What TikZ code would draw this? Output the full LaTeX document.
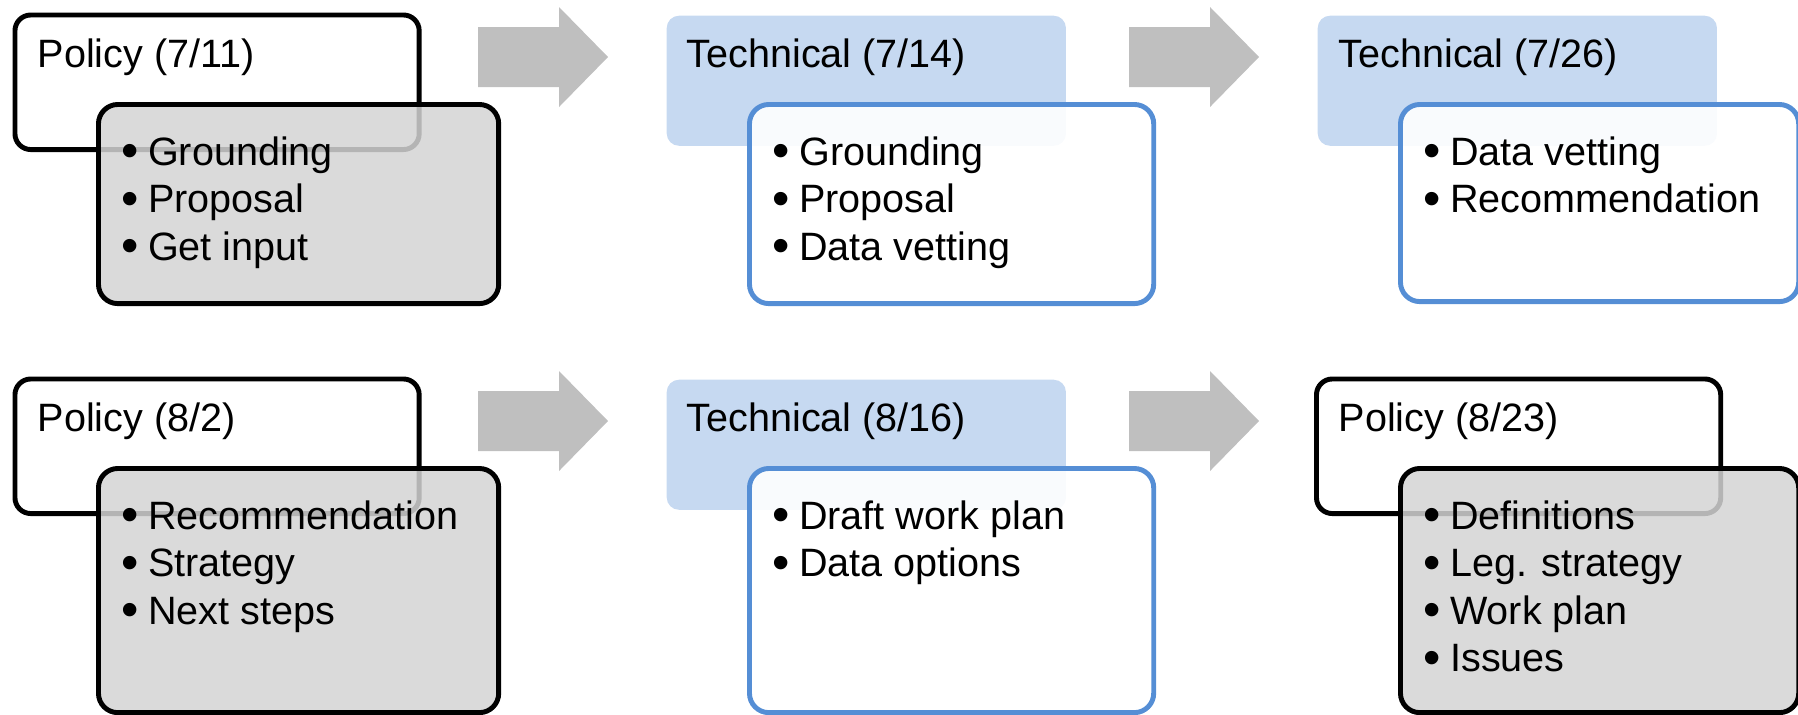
\documentclass[tikz,border=0pt]{standalone}
\usepackage{fontspec}
\setmainfont{Liberation Sans}
\usepackage{xcolor}
\usepackage{graphicx}
\usepackage{tikz}

\definecolor{headblue}{RGB}{198,217,241}
\definecolor{lineblue}{RGB}{85,142,213}
\definecolor{notegray}{RGB}{212,212,212}
\definecolor{arrowgray}{RGB}{191,191,191}

% one bullet line per item, baselines 47.5 apart
\newcommand{\bulletrows}[4]{%
  \foreach \txt [count=\i] in {#4}
    \node[rowtext] (#1-\i) at (#2, {#3+47.5*(\i-1)})
      {\makebox[0.67em][l]{\smash{\raisebox{-0.07em}{\scalebox{1.25}{\textbullet}}}}\txt};
}

\begin{document}
\begin{tikzpicture}[x=0.01cm, y=-0.01cm,
    font=\fontsize{11.25pt}{13.5pt}\selectfont,
    policyhead/.style={draw=black, line width=1.4pt, fill=white, rounded corners=4.5pt,
      anchor=north west, inner sep=0pt, minimum width=4.04cm, minimum height=1.345cm},
    techhead/.style={fill=headblue, rounded corners=3.5pt,
      anchor=north west, inner sep=0pt, minimum width=3.99cm, minimum height=1.30cm},
    policynote/.style={draw=black, line width=1.4pt, fill=notegray, fill opacity=0.85,
      rounded corners=5.5pt, anchor=north west, inner sep=0pt, minimum width=4.0cm},
    technote/.style={draw=lineblue, line width=1.4pt, fill=white, fill opacity=0.9,
      rounded corners=5.5pt, anchor=north west, inner sep=0pt, minimum width=4.04cm},
    headtext/.style={anchor=base west, inner sep=0pt},
    rowtext/.style={anchor=base west, inner sep=0pt}]

    \useasboundingbox (0,0) rectangle (1798,714);

    % Block arrows between the meetings
    \foreach \ax/\ay in {478/57, 1129/57, 478/421, 1129/421}
      \fill[arrowgray] ({\ax},{\ay-30}) -- ++(81,0) -- ++(0,-20) -- ++(49,50)
        -- ++(-49,50) -- ++(0,-20) -- ++(-81,0) -- cycle;

    % Row 1
    \node[policyhead] (pol1) at (12.5,12.5) {};
    \node[headtext] (pol1t) at (37,67) {Policy (7/11)};
    \node[policynote, minimum height=1.99cm] (pol1n) at (96,102) {};
    \bulletrows{pol1n}{121}{165}{Grounding, Proposal, Get input}

    \node[techhead] (tec1) at (666,15) {};
    \node[headtext] (tec1t) at (686,67) {Technical (7/14)};
    \node[technote, minimum height=1.99cm] (tec1n) at (747,102) {};
    \bulletrows{tec1n}{772}{165}{Grounding, Proposal, Data vetting}

    \node[techhead] (tec2) at (1317,15) {};
    \node[headtext] (tec2t) at (1338,67) {Technical (7/26)};
    \node[technote, minimum width=3.98cm, minimum height=1.97cm] (tec2n) at (1398,102) {};
    \bulletrows{tec2n}{1423}{165}{Data vetting, Recommendation}

    % Row 2
    \node[policyhead] (pol2) at (12.5,376.5) {};
    \node[headtext] (pol2t) at (37,431) {Policy (8/2)};
    \node[policynote, minimum height=2.44cm] (pol2n) at (96,466) {};
    \bulletrows{pol2n}{121}{529}{Recommendation, Strategy, Next steps}

    \node[techhead] (tec3) at (666,379) {};
    \node[headtext] (tec3t) at (686,431) {Technical (8/16)};
    \node[technote, minimum height=2.44cm] (tec3n) at (747,466) {};
    \bulletrows{tec3n}{772}{529}{Draft work plan, Data options}

    \node[policyhead] (pol3) at (1314,376.5) {};
    \node[headtext] (pol3t) at (1338,431) {Policy (8/23)};
    \node[policynote, minimum width=3.98cm, minimum height=2.44cm] (pol3n) at (1398,466) {};
    \bulletrows{pol3n}{1423}{529}{Definitions, Leg. strategy, Work plan, Issues}
\end{tikzpicture}
\end{document}
